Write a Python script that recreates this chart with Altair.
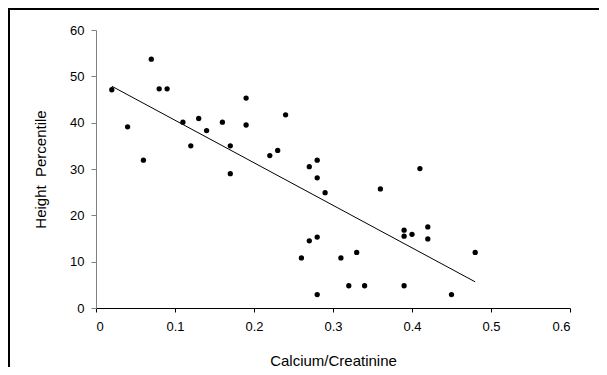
import altair as alt
import pandas as pd

ratio = [0.02, 0.04, 0.06, 0.07, 0.08, 0.09, 0.11, 0.12, 0.13, 0.14,
         0.16, 0.17, 0.17, 0.19, 0.19, 0.22, 0.23, 0.24, 0.27, 0.28,
         0.28, 0.29, 0.36, 0.41, 0.39, 0.39, 0.40, 0.42, 0.42, 0.27,
         0.28, 0.26, 0.31, 0.33, 0.48, 0.32, 0.34, 0.39, 0.28, 0.45]
height_pct = [47.1, 39.1, 31.9, 53.7, 47.3, 47.3, 40.1, 35.0, 40.9, 38.3,
              40.1, 35.0, 29.0, 45.3, 39.5, 32.9, 34.0, 41.7, 30.5, 31.9,
              28.1, 24.9, 25.7, 30.1, 16.8, 15.5, 15.9, 17.5, 14.9, 14.5,
              15.3, 10.8, 10.8, 12.0, 12.0, 4.8, 4.8, 4.8, 2.9, 2.9]
x_ticks = [0, 0.1, 0.2, 0.3, 0.4, 0.5, 0.6]
y_ticks = [0, 10, 20, 30, 40, 50, 60]

df = pd.DataFrame({"ratio": ratio, "pct": height_pct})

FONT = "Liberation Sans"

xenc = alt.X("ratio:Q",
             scale=alt.Scale(domain=[0, 0.6], nice=False, zero=False),
             axis=alt.Axis(values=x_ticks, format="~g", title="Calcium/Creatinine",
                           grid=False, domainColor="black", tickColor="black",
                           tickSize=4, labelFontSize=13, labelColor="black",
                           labelPadding=8, titleFontSize=15, titleFontWeight="normal",
                           titleColor="black", titleY=57, titleBaseline="alphabetic",
                           labelFont=FONT, titleFont=FONT))
yenc = alt.Y("pct:Q",
             scale=alt.Scale(domain=[0, 60], nice=False),
             axis=alt.Axis(values=y_ticks, title="Height\u00a0 Percentile",
                           grid=False, domainColor="#808080", tickColor="#808080",
                           tickSize=5, labelFontSize=13, labelColor="black",
                           labelPadding=7, titleFontSize=15, titleFontWeight="normal",
                           titleColor="black", titleX=-51, titleBaseline="alphabetic",
                           labelFont=FONT, titleFont=FONT))

frame = alt.Chart(df).mark_rect(fill=None, stroke="black", strokeWidth=2,
                                strokeOpacity=1, opacity=1, clip=False).encode(
    x=alt.value(-87), x2=alt.value(540), y=alt.value(-21), y2=alt.value(380)
).transform_filter("datum.ratio == 0.02")

points = alt.Chart(df).mark_circle(size=28, color="black", opacity=1).encode(x=xenc, y=yenc)

trend = alt.Chart(df).mark_line(color="black", strokeWidth=1).transform_regression(
    "ratio", "pct"
).encode(x="ratio:Q", y="pct:Q")

chart = alt.layer(frame, points, trend).properties(
    width=474, height=278,
    autosize=alt.AutoSizeParams(type="none"),
    padding={"left": 88, "top": 22, "right": 29, "bottom": 59},
    background="white",
).configure_view(stroke=None)

chart.save("out.html", embed_options={"renderer": "svg", "actions": False})
